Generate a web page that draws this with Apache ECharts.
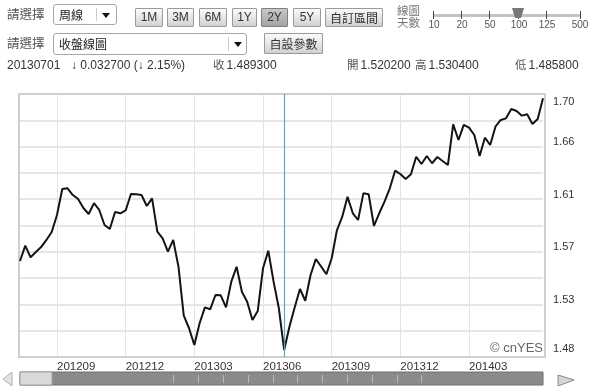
<!DOCTYPE html>
<html><head><meta charset="utf-8">
<script src="https://cdn.jsdelivr.net/npm/echarts@6/dist/echarts.min.js"></script>
<style>
html,body{margin:0;padding:0;background:#fff;}
#wrap{position:relative;width:600px;height:388px;overflow:hidden;font-family:"Liberation Sans","Noto Sans CJK TC",sans-serif;color:#333;}
#chart{position:absolute;left:0;top:0;width:600px;height:388px;}
.t{position:absolute;white-space:nowrap;line-height:1;font-size:12px;color:#333;}
.t .k{font-family:"Noto Sans CJK TC",sans-serif;color:#555;font-size:11.5px;margin-right:2px;}
.cjk{font-family:"Noto Sans CJK TC",sans-serif;}
.sel{position:absolute;border:1px solid #a8a8a8;border-radius:3px;background:#fff;box-sizing:border-box;}
.sel .txt{position:absolute;left:5px;top:3px;font-size:12px;font-family:"Noto Sans CJK TC",sans-serif;color:#222;line-height:1.2;}
.sel .div{position:absolute;top:3px;bottom:3px;width:1px;background:#ccc;}
.sel .arr{position:absolute;width:0;height:0;border-left:4px solid transparent;border-right:4px solid transparent;border-top:5px solid #111;}
.btn{position:absolute;box-sizing:border-box;border:1px solid #9a9a9a;border-radius:1px;background:linear-gradient(#fbfbfb,#d2d2d2);font-size:12px;text-align:center;color:#333;line-height:17px;}
.btn.on{background:linear-gradient(#c8c8c8,#a4a4a4);border-color:#808080;}
.tick{position:absolute;width:1px;height:8px;background:#444;top:11px;}
.sl{position:absolute;font-size:10px;color:#555;top:20px;transform:translateX(-50%);line-height:1;}
</style></head>
<body><div id="wrap">
<div id="chart"></div>

<div class="t cjk" style="left:7px;top:8px;font-size:12.5px;color:#555;">請選擇</div>
<div class="sel" style="left:53px;top:4px;width:64px;height:21px;"><span class="txt">周線</span><div class="div" style="left:42px"></div><div class="arr" style="left:48px;top:8px"></div></div>
<div class="btn" style="left:135px;top:8px;width:28px;height:19px;">1M</div>
<div class="btn" style="left:167px;top:8px;width:27px;height:19px;">3M</div>
<div class="btn" style="left:199px;top:8px;width:28px;height:19px;">6M</div>
<div class="btn" style="left:232px;top:8px;width:25px;height:19px;">1Y</div>
<div class="btn on" style="left:261px;top:8px;width:27px;height:19px;">2Y</div>
<div class="btn" style="left:293px;top:8px;width:28px;height:19px;">5Y</div>
<div class="btn cjk" style="left:325px;top:8px;width:58px;height:19px;">自訂區間</div>

<div class="t cjk" style="left:397px;top:4px;font-size:11.5px;color:#777;line-height:12px;">線圖<br>天數</div>
<div style="position:absolute;left:433px;top:14px;width:147px;height:3px;background:#c4c4c4;"></div>
<div class="tick" style="left:433px"></div><div class="tick" style="left:461px"></div><div class="tick" style="left:489px"></div>
<div class="tick" style="left:518px"></div><div class="tick" style="left:546px"></div><div class="tick" style="left:580px"></div>
<div style="position:absolute;left:512px;top:8px;width:12px;height:10px;background:#777;clip-path:polygon(0 0,100% 0,75% 100%,25% 100%);"></div>
<div class="sl" style="left:434px">10</div><div class="sl" style="left:462px">20</div><div class="sl" style="left:490px">50</div>
<div class="sl" style="left:519px">100</div><div class="sl" style="left:547px">125</div><div class="sl" style="left:580px">500</div>

<div class="t cjk" style="left:7px;top:37px;font-size:12.5px;color:#555;">請選擇</div>
<div class="sel" style="left:53px;top:33px;width:194px;height:22px;"><span class="txt">收盤線圖</span><div class="div" style="left:174px"></div><div class="arr" style="left:180px;top:8px"></div></div>
<div class="btn cjk" style="left:264px;top:33px;width:59px;height:21px;line-height:19px;">自設參數</div>

<div class="t" style="left:7px;top:59px;">20130701</div>
<div class="t" style="left:71px;top:59px;">↓ 0.032700 (↓ 2.15%)</div>
<div class="t" style="left:213px;top:59px;"><span class="k">收</span>1.489300</div>
<div class="t" style="left:347px;top:59px;"><span class="k">開</span>1.520200</div>
<div class="t" style="left:415px;top:59px;"><span class="k">高</span>1.530400</div>
<div class="t" style="left:515px;top:59px;"><span class="k">低</span>1.485800</div>
</div>
<script>
// ---- data ----
const firstWeek = [2012, 6, 16]; // 2012-07-16 (weekly closes)
const closeValues = [
  1.5620, 1.5745, 1.5650, 1.5693, 1.5734, 1.5792, 1.5857, 1.5996, 1.6208, 1.6214,
  1.6159, 1.6127, 1.6053, 1.6004, 1.6092, 1.6037, 1.5914, 1.5881, 1.6020, 1.6010,
  1.6033, 1.6168, 1.6165, 1.6159, 1.6069, 1.6132, 1.5859, 1.5805, 1.5696, 1.5792,
  1.5573, 1.5173, 1.5070, 1.4933, 1.5111, 1.5241, 1.5225, 1.5342, 1.5339, 1.5241,
  1.5451, 1.5573, 1.5369, 1.5287, 1.5138, 1.5211, 1.5560, 1.5704, 1.5451, 1.5233,
  1.4893, 1.5083, 1.5241, 1.5391, 1.5295, 1.5505, 1.5636, 1.5575, 1.5511, 1.5642,
  1.5873, 1.5982, 1.6145, 1.6010, 1.5955, 1.6173, 1.6165, 1.5906, 1.6010, 1.6105,
  1.6214, 1.6358, 1.6331, 1.6290, 1.6329, 1.6472, 1.6413, 1.6478, 1.6419, 1.6470,
  1.6437, 1.6405, 1.6737, 1.6609, 1.6732, 1.6710, 1.6650, 1.6478, 1.6628, 1.6568,
  1.6718, 1.6773, 1.6786, 1.6862, 1.6846, 1.6808, 1.6819, 1.6740, 1.6781, 1.6950
];
const quarterLabels = ['201209', '201212', '201303', '201306', '201309', '201312', '201403'];
const yTickLabels = ['1.48', '1.53', '1.57', '1.61', '1.66', '1.70'];
const selectedWeek = '20130701';

// categories: weekly dates
const pad = n => (n < 10 ? '0' : '') + n;
const categories = closeValues.map((v, i) => {
  const d = new Date(Date.UTC(firstWeek[0], firstWeek[1], firstWeek[2]) + i * 7 * 864e5);
  return d.getUTCFullYear() + pad(d.getUTCMonth() + 1) + pad(d.getUTCDate());
});
const isQuarterStart = (idx) => {
  const c = categories[idx];
  return quarterLabels.indexOf(c.slice(0, 6)) >= 0 && parseInt(c.slice(6), 10) <= 7;
};

const chart = echarts.init(document.getElementById('chart'), null, { renderer: 'canvas' });
const scrollTicks = [173, 198, 223, 248, 273, 297, 322, 347, 372, 397, 421];
const graphics = [
  { type: 'rect', z: 1, shape: { x: 19, y: 94, width: 526, height: 263 }, style: { fill: 'none', stroke: '#cfcfcf', lineWidth: 2 } },
  { type: 'text', z: 5, style: { text: '© cnYES', x: 543, y: 348, align: 'right', textAlign: 'right', verticalAlign: 'middle', textVerticalAlign: 'middle', fontSize: 13, fontFamily: 'Liberation Sans', fill: '#666' } },
  { type: 'rect', shape: { x: 20, y: 372, width: 523, height: 13 }, style: { fill: '#8a8a8a', stroke: '#6f6f6f', lineWidth: 1 } },
  { type: 'rect', shape: { x: 20, y: 372, width: 32, height: 13 }, style: { fill: '#dadada', stroke: '#a0a0a0', lineWidth: 1 } },
  { type: 'polygon', shape: { points: [[12, 372], [3, 379], [12, 386]] }, style: { fill: '#e4e4e4', stroke: '#b0b0b0', lineWidth: 1 } },
  { type: 'polygon', shape: { points: [[558, 375], [574, 380], [558, 386]] }, style: { fill: '#d6d6d6', stroke: '#8a8a8a', lineWidth: 1 } }
];
scrollTicks.forEach(x => graphics.push({ type: 'line', shape: { x1: x + 0.5, y1: 375, x2: x + 0.5, y2: 383 }, style: { stroke: '#b8b8b8', lineWidth: 1 } }));

chart.setOption({
  animation: false,
  backgroundColor: 'transparent',
  grid: { left: 20, right: 57, top: 94, bottom: 31, containLabel: false },
  xAxis: {
    type: 'category',
    data: categories,
    boundaryGap: false,
    axisLine: { show: false },
    axisTick: { show: false },
    splitLine: { show: true, interval: (i) => isQuarterStart(i), lineStyle: { color: '#e4e4e4', width: 1 } },
    axisLabel: {
      interval: (i) => isQuarterStart(i),
      formatter: (v) => v.slice(0, 6),
      align: 'left',
      margin: 4,
      color: '#333',
      fontSize: 11.5,
      fontFamily: 'Liberation Sans'
    }
  },
  yAxis: {
    type: 'value',
    position: 'right',
    min: 1.4835,
    max: 1.6985,
    interval: 0.0215,
    axisLine: { show: false },
    axisTick: { show: false },
    splitLine: { show: true, lineStyle: { color: '#dedede', width: 1.5 } },
    axisLabel: {
      showMinLabel: true,
      showMaxLabel: true,
      margin: 10,
      color: '#333',
      fontSize: 11,
      fontFamily: 'Liberation Sans',
      formatter: (v, idx) => {
        if (idx % 2 !== 0) return '';
        const k = idx / 2;
        const s = yTickLabels[k];
        if (s === undefined) return '';
        if (k === yTickLabels.length - 1) return '{top|' + s + '}';
        if (k === 0) return '{bot|' + s + '}';
        return '{mid|' + s + '}';
      },
      rich: {
        top: { padding: [15, 0, 0, 0], fontSize: 11, fontFamily: 'Liberation Sans', color: '#333' },
        mid: { padding: [0, 0, 9, 0], fontSize: 11, fontFamily: 'Liberation Sans', color: '#333' },
        bot: { padding: [0, 0, 16, 0], fontSize: 11, fontFamily: 'Liberation Sans', color: '#333' }
      }
    }
  },
  series: [{
    type: 'line',
    data: closeValues,
    showSymbol: false,
    symbol: 'none',
    z: 3,
    lineStyle: { color: '#141414', width: 2 },
    markLine: {
      silent: true,
      symbol: ['none', 'none'],
      label: { show: false },
      lineStyle: { color: '#5aa8c6', width: 1.2, type: 'solid' },
      data: [{ xAxis: selectedWeek }]
    }
  }],
  graphic: graphics
});
</script>
</body></html>
